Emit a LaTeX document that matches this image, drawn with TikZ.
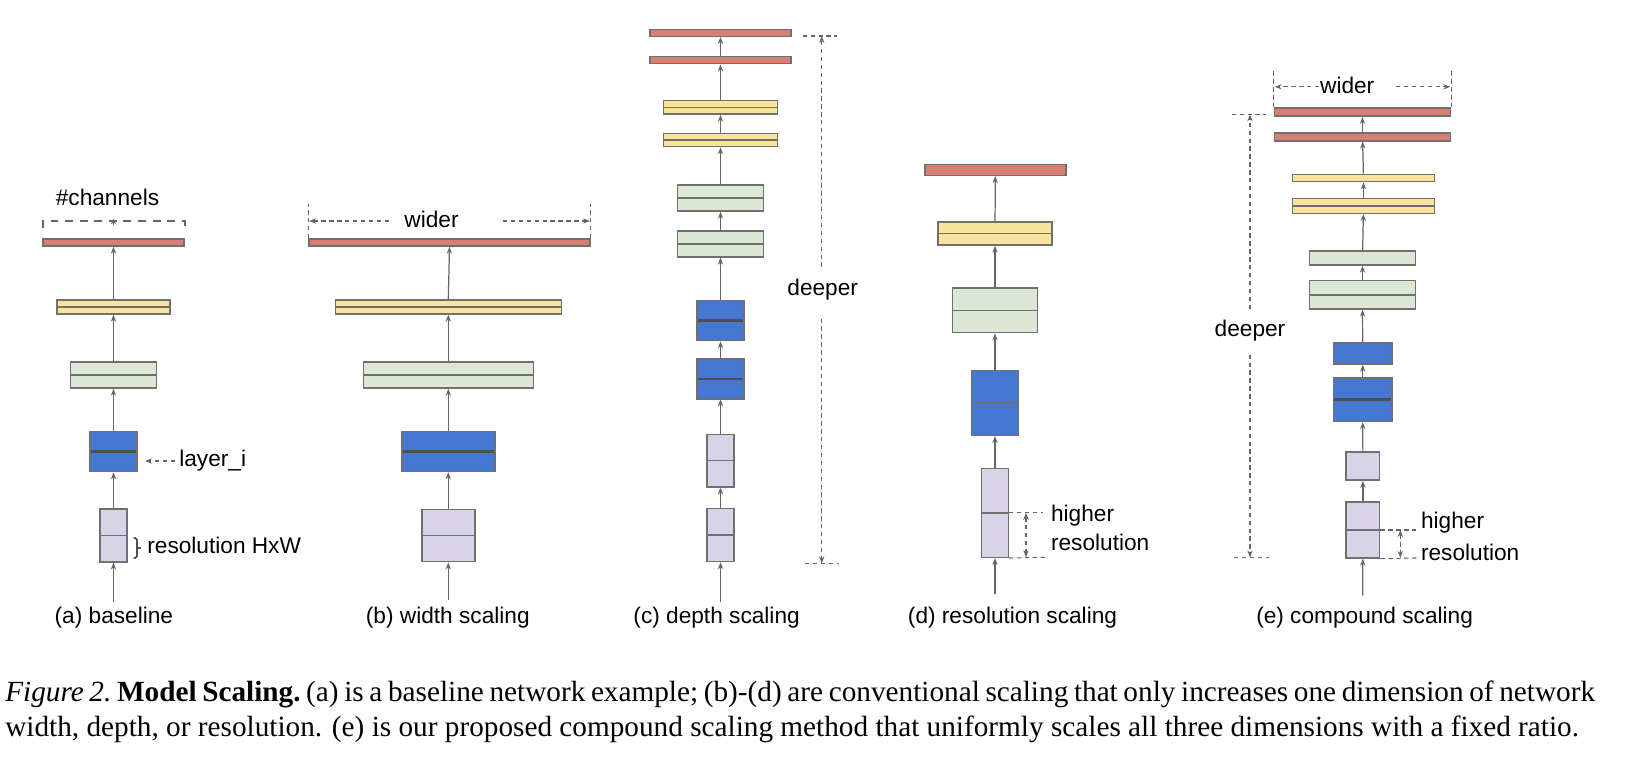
\documentclass[tikz,border=0pt]{standalone}
\usepackage{fontspec}
\setmainfont{Liberation Serif}
\setsansfont{Liberation Sans}
\usepackage{xcolor}
\usetikzlibrary{arrows.meta, positioning}

\definecolor{redbar}{HTML}{D58071}
\definecolor{yellowbar}{HTML}{FAE39C}
\definecolor{greenbar}{HTML}{DCE8D5}
\definecolor{bluebar}{HTML}{4677D2}
\definecolor{lavbar}{HTML}{D8D3E8}
\definecolor{edgegray}{HTML}{707070}
\definecolor{midgray}{HTML}{4F4F4F}
\definecolor{arrowgray}{HTML}{666666}

\begin{document}
\begin{tikzpicture}[x=0.02cm, y=-0.02cm,
    layer/.style={rectangle, draw=edgegray, line width=0.8pt, inner sep=0pt},
    sz/.style 2 args={minimum width=#1*0.02cm, minimum height=#2*0.02cm},
    halved/.style={path picture={\draw[edgegray, line width=0.8pt] (path picture bounding box.west) -- (path picture bounding box.east);}},
    halvedb/.style={path picture={\draw[midgray, line width=1.4pt] (path picture bounding box.west) -- (path picture bounding box.east);}},
    arrow/.style={->, line width=0.7pt, arrowgray},
    dim/.style={arrowgray, line width=0.6pt, dash pattern=on 2.5pt off 2pt},
    lbl/.style={font=\sffamily\fontsize{12.9}{15}\selectfont, inner sep=0pt},
    captext/.style={font=\fontsize{16.65}{19}\selectfont, inner sep=0pt},
    >={Stealth[length=4pt,width=3pt]}
]
\useasboundingbox (0,0) rectangle (1646,760);

% (a) baseline
\node[layer, sz={141}{7}, fill=redbar] (a-red) at (113.5,242.5) {};
\node[layer, sz={113}{14}, fill=yellowbar, halved] (a-yellow) at (113.5,307) {};
\node[layer, sz={86}{26}, fill=greenbar, halved] (a-green) at (113.5,375) {};
\node[layer, sz={47}{40}, fill=bluebar, halvedb] (a-blue) at (113.5,451.7) {};
\node[layer, sz={27}{53}, fill=lavbar, halved] (a-lav) at (113.5,535.3) {};
\coordinate (a-in) at (113.5,602);
\draw[arrow] (a-in) -- (a-lav);
\draw[arrow] (a-lav) -- (a-blue);
\draw[arrow] (a-blue) -- (a-green);
\draw[arrow] (a-green) -- (a-yellow);
\draw[arrow] (a-yellow) -- (a-red);

\node[lbl] (channels) at (107.5,197) {\#channels};
\draw[arrowgray, line width=1.1pt, dash pattern=on 4.5pt off 3.8pt] (43,228) -- (43,221) -- (185,221) -- (185,228);
\draw[arrowgray, -{Stealth[length=3pt,width=3pt]}] (113.5,225) -- (113.5,219);
\node[lbl, anchor=west] (layeri) at (179,461) {layer\_i};
\coordinate (li-tip) at (145,461);
\draw[dim, ->] (175,461) -- (li-tip);
\node[lbl, anchor=west] (reshw) at (147,545) {resolution HxW};
\draw[midgray, line width=0.9pt, rounded corners=1pt] (133.5,538) -- (137,538) -- (137,558) -- (133.5,558);
\draw[midgray, line width=0.9pt] (137,548) -- (141,548);

% (b) width scaling
\node[layer, sz={281}{7}, fill=redbar] (b-red) at (449.5,242.5) {};
\node[layer, sz={226}{14}, fill=yellowbar, halved] (b-yellow) at (448.3,307) {};
\node[layer, sz={170}{26}, fill=greenbar, halved] (b-green) at (448.3,375) {};
\node[layer, sz={93}{40}, fill=bluebar, halvedb] (b-blue) at (448.3,451.5) {};
\node[layer, sz={53}{52.5}, fill=lavbar, halved] (b-lav) at (448.3,535.5) {};
\coordinate (b-in) at (448.3,600);
\draw[arrow] (b-in) -- (b-lav);
\draw[arrow] (b-lav) -- (b-blue);
\draw[arrow] (b-blue) -- (b-green);
\draw[arrow] (b-green) -- (b-yellow);
\draw[arrow] (b-yellow.north) -- (b-red.south);

\node[lbl] (b-wider) at (431.5,219) {wider};
\coordinate (b-wl) at (309,221);
\coordinate (b-wr) at (590,221);
\draw[dim] (b-red.north west) -- ++(0,-34);
\draw[dim] (b-red.north east) -- ++(0,-34);
\draw[dim, ->] (389,221) -- (b-wl);
\draw[dim, ->] (503,221) -- (b-wr);

% (c) depth scaling
\node[layer, sz={141}{7}, fill=redbar] (c-red1) at (720.5,32.8) {};
\node[layer, sz={141}{7}, fill=redbar] (c-red2) at (720.5,60.2) {};
\node[layer, sz={114}{13.4}, fill=yellowbar, halved] (c-yellow1) at (720.5,107.4) {};
\node[layer, sz={114}{13.4}, fill=yellowbar, halved] (c-yellow2) at (720.5,140) {};
\node[layer, sz={86}{26}, fill=greenbar, halved] (c-green1) at (720.5,198) {};
\node[layer, sz={86}{26}, fill=greenbar, halved] (c-green2) at (720.5,244) {};
\node[layer, sz={47}{40}, fill=bluebar, halvedb] (c-blue1) at (720.5,320.6) {};
\node[layer, sz={47}{40}, fill=bluebar, halvedb] (c-blue2) at (720.5,378.8) {};
\node[layer, sz={27}{52.5}, fill=lavbar, halved] (c-lav1) at (720.5,460.7) {};
\node[layer, sz={27}{53}, fill=lavbar, halved] (c-lav2) at (720.5,535) {};
\coordinate (c-in) at (720.5,601.7);
\draw[arrow] (c-in) -- (c-lav2);
\draw[arrow] (c-lav2) -- (c-lav1);
\draw[arrow] (c-lav1) -- (c-blue2);
\draw[arrow] (c-blue2) -- (c-blue1);
\draw[arrow] (c-blue1) -- (c-green2);
\draw[arrow] (c-green2) -- (c-green1);
\draw[arrow] (c-green1) -- (c-yellow2);
\draw[arrow] (c-yellow2) -- (c-yellow1);
\draw[arrow] (c-yellow1) -- (c-red2);
\draw[arrow] (c-red2) -- (c-red1);

\node[lbl] (c-deeper) at (822.7,289.8) {deeper};
\coordinate (c-dtop) at (821.7,36);
\coordinate (c-dbot) at (821.7,563.4);
\draw[dim] (802.7,36) -- (836.7,36);
\draw[dim] (805,563.4) -- (839,563.4);
\draw[dim, ->] (821.7,266.8) -- (c-dtop);
\draw[dim, ->] (821.7,318.5) -- (c-dbot);

% (d) resolution scaling
\node[layer, sz={141}{11}, fill=redbar] (d-red) at (995.3,169.8) {};
\node[layer, sz={114}{23}, fill=yellowbar, halved] (d-yellow) at (995,233.5) {};
\node[layer, sz={85}{44.7}, fill=greenbar, halved] (d-green) at (995,310.3) {};
\node[layer, sz={47}{64.6}, fill=bluebar, halved] (d-blue) at (995,403) {};
\node[layer, sz={26.5}{89}, fill=lavbar, halved] (d-lav) at (995,512.8) {};
\coordinate (d-in) at (995,594.3);
\draw[arrow] (d-in) -- (d-lav);
\draw[arrow] (d-lav) -- (d-blue);
\draw[arrow] (d-blue) -- (d-green);
\draw[arrow] (d-green) -- (d-yellow);
\draw[arrow] (d-yellow) -- (d-red);

\node[lbl, anchor=west] (d-higher) at (1050.7,515.7) {higher};
\node[lbl, anchor=west] (d-res) at (1050.7,542.7) {resolution};
\draw[dim] (d-lav.east) -- (1043,512.8);
\draw[dim] (d-lav.south east) -- (1045,557.3);
\draw[dim, <->] (1026,512.8) -- (1026,557.3);

% (e) compound scaling
\node[layer, sz={176.4}{8}, fill=redbar] (e-red1) at (1362.5,112.2) {};
\node[layer, sz={176.4}{8}, fill=redbar] (e-red2) at (1362.5,136.8) {};
\node[layer, sz={142.4}{7.5}, fill=yellowbar] (e-yellow1) at (1363.5,178) {};
\node[layer, sz={142.4}{14.6}, fill=yellowbar, halved] (e-yellow2) at (1363.5,206) {};
\node[layer, sz={106.4}{14}, fill=greenbar] (e-green1) at (1362.5,258) {};
\node[layer, sz={106.4}{28.2}, fill=greenbar, halved] (e-green2) at (1362.5,294.8) {};
\node[layer, sz={58.7}{21}, fill=bluebar] (e-blue1) at (1362.7,353.5) {};
\node[layer, sz={58.7}{43.5}, fill=bluebar, halvedb] (e-blue2) at (1362.7,399.6) {};
\node[layer, sz={33.7}{28.2}, fill=lavbar] (e-lav1) at (1362.9,466) {};
\node[layer, sz={33.7}{56}, fill=lavbar, halved] (e-lav2) at (1362.9,530) {};
\coordinate (e-in) at (1362.7,595.7);
\draw[arrow] (e-in) -- (e-lav2);
\draw[arrow] (e-lav2) -- (e-lav1);
\draw[arrow] (e-lav1) -- (e-blue2);
\draw[arrow] (e-blue2) -- (e-blue1);
\draw[arrow] (e-blue1) -- (e-green2);
\draw[arrow] (e-green2) -- (e-green1);
\draw[arrow] (e-green1) -- (e-yellow2);
\draw[arrow] (e-yellow2) -- (e-yellow1);
\draw[arrow] (e-yellow1) -- (e-red2);
\draw[arrow] (e-red2) -- (e-red1);

\node[lbl] (e-wider) at (1347.2,85) {wider};
\coordinate (e-wl) at (1274.7,86.8);
\coordinate (e-wr) at (1450.3,86.8);
\draw[dim] (e-red1.north west) -- ++(0,-37.5);
\draw[dim] (e-red1.north east) -- ++(0,-37.5);
\draw[dim, ->] (1319.3,86.8) -- (e-wl);
\draw[dim, ->] (1396,86.8) -- (e-wr);

\node[lbl] (e-deeper) at (1250,330.4) {deeper};
\coordinate (e-dtop) at (1250,114.3);
\coordinate (e-dbot) at (1250,557.5);
\draw[dim] (1231.7,114.3) -- (1266,114.3);
\draw[dim] (1234,557.5) -- (1268.7,557.5);
\draw[dim, ->] (1250,309) -- (e-dtop);
\draw[dim, ->] (1250,354.6) -- (e-dbot);

\node[lbl, anchor=west] (e-higher) at (1420.7,522.5) {higher};
\node[lbl, anchor=west] (e-res) at (1420.7,552) {resolution};
\draw[dim] (e-lav2.east) -- (1417,530);
\draw[dim] (e-lav2.south east) -- (1420,557.9);
\draw[dim, <->] (1400.3,530) -- (1400.3,557.9);

% panel names
\node[lbl] (a-name) at (113.9,618) {(a) baseline};
\node[lbl] (b-name) at (447.8,618) {(b) width scaling};
\node[lbl] (c-name) at (716.6,618) {(c) depth scaling};
\node[lbl] (d-name) at (1012.5,618) {(d) resolution scaling};
\node[lbl] (e-name) at (1364.6,618) {(e) compound scaling};

% caption
\node[captext, anchor=base west] (cap1) at (5,701.5) {\hbox to 31.8cm{\frenchspacing\spaceskip=0.25em plus 0.1em minus 0.12em\textit{Figure 2.} \textbf{Model Scaling.} (a) is a baseline network example; (b)-(d) are conventional scaling that only increases one dimension of network}};
\node[captext, anchor=base west] (cap2) at (5,736) {width, depth, or resolution. (e) is our proposed compound scaling method that uniformly scales all three dimensions with a fixed ratio.};
\end{tikzpicture}
\end{document}
